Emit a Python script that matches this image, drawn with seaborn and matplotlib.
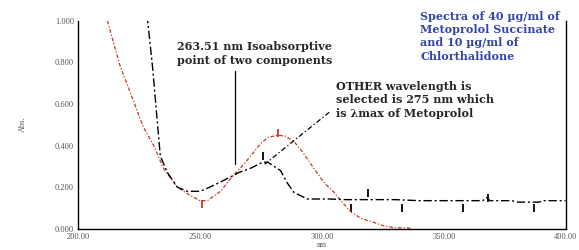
import numpy as np
import pandas as pd
import matplotlib
matplotlib.use("Agg")
import matplotlib.pyplot as plt
import seaborn as sns

# wavelengths (nm) and absorbance
black_wl = [226, 228.5, 230.5, 232.5, 233.7, 236.6, 240.7, 244.8, 250, 254, 258.4, 263.5, 265.8,
            270.6, 275.7, 277.8, 283, 285.8, 288.5, 294, 296.7, 303, 310, 320, 330, 340, 355, 366,
            367.5, 369, 378, 380, 389, 391, 400]
black_abs = [1.3, 1.0, 0.78, 0.51, 0.35, 0.27, 0.2, 0.18, 0.18, 0.2, 0.225, 0.255, 0.27,
             0.29, 0.32, 0.32, 0.28, 0.22, 0.175, 0.143, 0.143, 0.143, 0.14, 0.14, 0.14, 0.135, 0.135, 0.135,
             0.15, 0.135, 0.135, 0.128, 0.128, 0.135, 0.135]

red_wl = [212, 217, 222.5, 226.7, 231, 235, 240.7, 246, 250, 253, 258.4, 263.5, 268, 274.9, 278,
          282, 285, 288.5, 292, 296.7, 301, 305, 308.5, 312, 316, 321.4, 325, 329.6, 337]
red_abs = [1.0, 0.79, 0.62, 0.49, 0.40, 0.29, 0.2, 0.16, 0.135, 0.135, 0.18, 0.255, 0.31, 0.41, 0.44,
           0.45, 0.445, 0.42, 0.37, 0.29, 0.22, 0.175, 0.125, 0.08, 0.05, 0.03, 0.015, 0.005, 0.003]

# peak pick markers
red_mark_wl = [251, 282]
red_mark_abs = [0.12, 0.46]
black_mark_wl = [276, 312, 319, 333, 358, 368, 387]
black_mark_abs = [0.35, 0.10, 0.17, 0.10, 0.10, 0.15, 0.10]

x_ticks = [200, 250, 300, 350, 400]
y_ticks = [0.0, 0.2, 0.4, 0.6, 0.8, 1.0]

black_df = pd.DataFrame({"nm": black_wl, "Abs.": black_abs})
red_df = pd.DataFrame({"nm": red_wl, "Abs.": red_abs})

sns.set_style("white")
plt.rcParams["font.family"] = ["Liberation Serif", "DejaVu Serif"]

fig = plt.figure(figsize=(5.79, 2.5), dpi=100)
ax = fig.add_axes([0.135, 0.085, 0.842, 0.832])

red = "#c0392b"
sns.lineplot(data=red_df, x="nm", y="Abs.", ax=ax, color=red, lw=0.9,
             linestyle=(0, (3, 1.5, 1, 1.5)))
sns.lineplot(data=black_df, x="nm", y="Abs.", ax=ax, color="black", lw=1.0,
             linestyle=(0, (6, 2, 1.5, 2)))

sns.scatterplot(x=red_mark_wl, y=red_mark_abs, ax=ax, marker="|", s=40, color=red, linewidth=1.3)
sns.scatterplot(x=black_mark_wl, y=black_mark_abs, ax=ax, marker="|", s=40, color="black", linewidth=1.3)

ax.set_xlim(200, 400)
ax.set_ylim(0, 1.0)
ax.set_xticks(x_ticks)
ax.set_xticklabels([f"{v:.2f}" for v in x_ticks])
ax.set_yticks(y_ticks)
ax.set_yticklabels([f"{v:.3f}" for v in y_ticks])
ax.tick_params(length=0, labelsize=6, colors="#555555", pad=3)
# the scan only shows a few short inner ticks
ax.set_yticks([0.4], minor=True)
ax.set_xticks([350], minor=True)
ax.yaxis.set_tick_params(which="minor", direction="in", length=5, width=1, color="black",
                         left=True, right=True)
ax.xaxis.set_tick_params(which="minor", direction="in", length=5, width=1, color="black",
                         bottom=True)
ax.set_xlabel("nm", fontsize=5.5, color="#555555", labelpad=0)
ax.set_ylabel("Abs.", fontsize=6, color="#555555", labelpad=20)

for side in ["left", "bottom", "right"]:
    ax.spines[side].set_color("black")
    ax.spines[side].set_linewidth(1.0)
ax.spines["top"].set_visible(False)

# annotations
note_font = dict(family="DejaVu Serif", fontsize=8, fontweight="bold", linespacing=1.25)
ax.text(240.7, 0.843, "263.51 nm Isoabsorptive\npoint of two components",
        ha="left", va="center", **note_font)
ax.plot([264.2, 264.2], [0.76, 0.31], color="black", lw=0.9)

ax.text(305.8, 0.619, "OTHER wavelength is\nselected is 275 nm which\nis λmax of Metoprolol",
        ha="left", va="center", **note_font)
ax.plot([303, 276.5], [0.56, 0.31], color="black", lw=0.9, linestyle=(0, (4, 2, 1, 2)))

ax.text(340.3, 0.926, "Spectra of 40 µg/ml of\nMetoprolol Succinate\nand 10 µg/ml of\nChlorthalidone",
        color="#3344aa", ha="left", va="center", **note_font)

fig.savefig("out.png", dpi=100)
